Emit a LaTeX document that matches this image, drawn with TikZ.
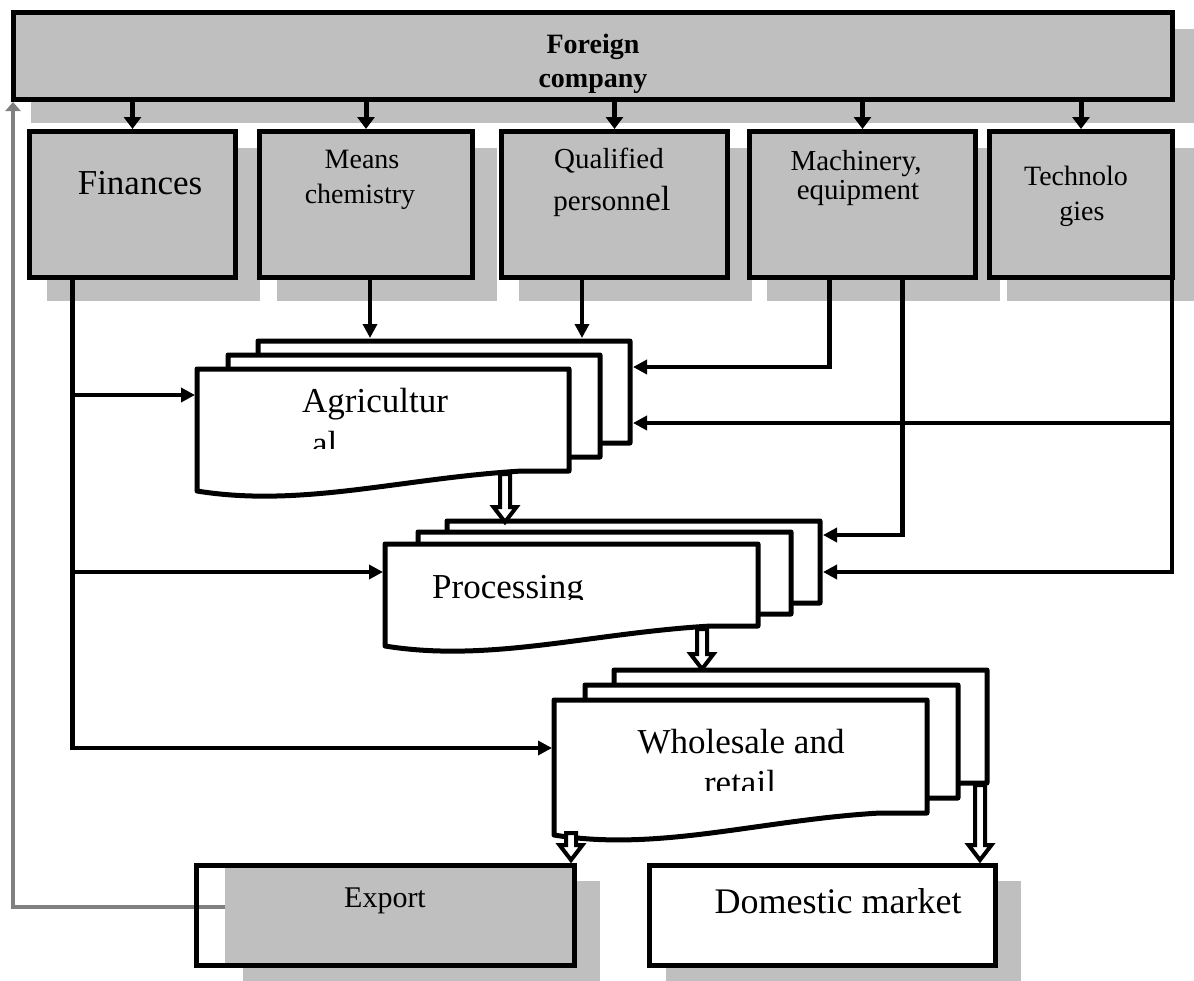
\documentclass[tikz,border=0pt]{standalone}
\usepackage{fontspec}
\setmainfont{Liberation Serif}
\usetikzlibrary{arrows.meta,calc}
\pgfdeclarelayer{bg}
\pgfsetlayers{bg,main}
\definecolor{boxgray}{HTML}{BFBFBF}
\definecolor{linegray}{HTML}{808080}

% font sizes (1pt = 1 unit of the drawing)
\newcommand\fsL{\fontsize{35}{40}\selectfont}
\newcommand\fsM{\fontsize{29}{34}\selectfont}
\newcommand\fsS{\fontsize{28}{33}\selectfont}
\newcommand\fsB{\fontsize{28}{33}\selectfont\bfseries}
\newcommand\fsE{\fontsize{30}{35}\selectfont}
\newcommand\fsD{\fontsize{36}{41}\selectfont}

\tikzset{
  unitbox/.style={draw=black, line width=5pt, fill=boxgray, rectangle, inner sep=0pt},
  plainbox/.style={draw=black, line width=5pt, rectangle, inner sep=0pt},
  link/.style={line width=4.5pt, -{Triangle[length=14pt,width=14pt]}},
  feed/.style={line width=5pt, -{Triangle[length=12pt,width=17pt]}},
  grayfeed/.style={line width=4pt, draw=linegray, -{Triangle[length=9pt,width=15pt]}},
  sheet/.style={draw=black, line width=5pt, fill=white, line join=round},
  hollow/.style={draw=black, fill=white, line width=4pt},
  txt/.style={inner sep=0pt, anchor=base},
  txtl/.style={inner sep=0pt, anchor=base west},
}

% gray shadow behind a named box
\newcommand\castshadow[1]{%
  \begin{pgfonlayer}{bg}
    \fill[boxgray] ([xshift=20pt,yshift=-19pt]#1.north west) rectangle ([xshift=22pt,yshift=-21pt]#1.south east);
  \end{pgfonlayer}}

% one sheet of a document stack: x, y (top left), width, right height, extra depth at left
\newcommand\docsheet[5]{%
  \filldraw[sheet] (#1,#2) -- (#1+#3,#2) -- (#1+#3,#2+#4) -- (#1+#3-47,#2+#4)
    .. controls (#1+205,#2+#4+7) and (#1+105,#2+#4+#5+17) .. (#1,#2+#4+#5) -- cycle;}

% hollow downward arrow between two named coordinates
\newcommand\hollowarrow[2]{%
  \filldraw[hollow] let \p1=(#1), \p2=(#2) in
    (\x1-5pt,\y1) -- (\x1-5pt,\y2+15pt) -- (\x1-11.5pt,\y2+15pt) -- (\x1,\y2)
    -- (\x1+11.5pt,\y2+15pt) -- (\x1+5pt,\y2+15pt) -- (\x1+5pt,\y1) -- cycle;}

\begin{document}
\begin{tikzpicture}[x=1pt,y=-1pt]
\useasboundingbox (0,0) rectangle (1194,980);
\clip (0,0) rectangle (1194,980);

% ---------- top row ----------
\node[unitbox, minimum width=1159pt, minimum height=87pt] (foreign) at (593,56) {};
\castshadow{foreign}
\node[txt] (foreignA) at (593,53) {\fsB Foreign};
\node[txt] (foreignB) at (593,87) {\fsB company};

\node[unitbox, minimum width=206pt, minimum height=146pt] (fin) at (132.5,204.5) {};
\node[unitbox, minimum width=213pt, minimum height=146pt] (means) at (366,204.5) {};
\node[unitbox, minimum width=226pt, minimum height=146pt] (qual) at (614.5,204.5) {};
\node[unitbox, minimum width=226pt, minimum height=146pt] (mach) at (862.5,204.5) {};
\node[unitbox, minimum width=183pt, minimum height=146pt] (tech) at (1081,204.5) {};
\castshadow{fin}
\castshadow{means}
\castshadow{qual}
\castshadow{mach}
\castshadow{tech}

\node[txt] (finT) at (140,194) {\fsL Finances};
\node[txt] (meansA) at (362,168) {\fsS Means};
\node[txt] (meansB) at (360,203) {\fsS chemistry};
\node[txt] (qualA) at (609,168) {\fsM Qualified};
\node[txt] (qualB) at (612,210) {\fsM personn{\fsL el}};
\node[txt] (machA) at (856,170) {\fsM Machinery,};
\node[txt] (machB) at (858,199) {\fsM equipment};
\node[txt] (techA) at (1076,185) {\fsS Technolo};
\node[txt] (techB) at (1082,220) {\fsS gies};

\foreach \b in {fin,means,qual,mach,tech}
  \draw[feed] (\b.north |- foreign.south) -- (\b.north);

% ---------- document stacks ----------
% Agricultural
\docsheet{258}{341}{372}{102}{20}
\docsheet{228}{355}{372}{102}{20}
\docsheet{197}{369}{372}{102}{20}
\begin{scope}
  \clip (200,372) rectangle (566,448);
  \node[txtl] (agriA) at (302,412) {\fsL Agricultur};
  \node[txtl] (agriB) at (312,455) {\fsL al};
\end{scope}

% Processing
\docsheet{447}{521}{373}{82}{20}
\docsheet{418}{532}{373}{82}{20}
\docsheet{385}{544}{373}{82}{20}
\begin{scope}
  \clip (388,547) rectangle (755,599);
  \node[txtl] (procA) at (432,598) {\fsL Processing};
\end{scope}

% Wholesale and retail
\docsheet{614}{670}{373}{113}{22}
\docsheet{585}{685}{373}{113}{22}
\docsheet{554}{700}{373}{113}{22}
\begin{scope}
  \clip (557,703) rectangle (924,790);
  \node[txt] (wholeA) at (741,753) {\fsL Wholesale and};
  \node[txt] (wholeB) at (740,794) {\fsL retail};
\end{scope}

% entry points on the stacks
\coordinate (agriIn) at (195,395);
\coordinate (procIn) at (383,572);
\coordinate (wholeIn) at (552,748);
\coordinate (agriTopA) at (370,338);
\coordinate (agriTopB) at (582,338);
\coordinate (agriRA) at (633,367);
\coordinate (agriRB) at (633,423);
\coordinate (procRA) at (823,535);
\coordinate (procRB) at (823,572);

% ---------- bottom row ----------
\coordinate (expG) at (225,907);
\draw[grayfeed] (expG) -| ([xshift=2pt]foreign.south west);

\begin{pgfonlayer}{bg}
  \fill[boxgray] (243,881) rectangle (600,990);
  \fill[boxgray] (666,881) rectangle (1021,990);
\end{pgfonlayer}
\fill[boxgray] (225,866) rectangle (575,966);
\node[plainbox, minimum width=378pt, minimum height=100pt] (export) at (385.5,915.5) {};
\node[plainbox, fill=white, minimum width=346pt, minimum height=100pt] (domestic) at (822.5,915.5) {};
\node[txt] (exportT) at (385,907) {\fsE Export};
\node[txt] (domesticT) at (838,913) {\fsD Domestic market};

% ---------- hollow flow arrows ----------
\coordinate (apS) at (505,474);  \coordinate (apE) at (505,522);
\coordinate (pwS) at (702,629);  \coordinate (pwE) at (702,669);
\coordinate (weS) at (571,833);  \coordinate (weE) at (571,860);
\coordinate (wdS) at (980,785);  \coordinate (wdE) at (980,860);
\hollowarrow{apS}{apE}
\hollowarrow{pwS}{pwE}
\hollowarrow{weS}{weE}
\hollowarrow{wdS}{wdE}

% ---------- connectors ----------
\draw[link] (means.south -| agriTopA) -- (agriTopA);
\draw[link] (qual.south -| agriTopB) -- (agriTopB);
\draw[link] ([xshift=-33pt]mach.south) |- (agriRA);
\draw[link] ([xshift=40pt]mach.south) |- (procRA);
\path ([xshift=-3pt]tech.south east) coordinate (techX);
\draw[link] (techX) |- (procRB);
\draw[link] (techX |- agriRB) -- (agriRB);
\path ([xshift=-60pt]fin.south) coordinate (finX);
\draw[link] (finX) |- (wholeIn);
\draw[link] (finX |- agriIn) -- (agriIn);
\draw[link] (finX |- procIn) -- (procIn);

\end{tikzpicture}
\end{document}
